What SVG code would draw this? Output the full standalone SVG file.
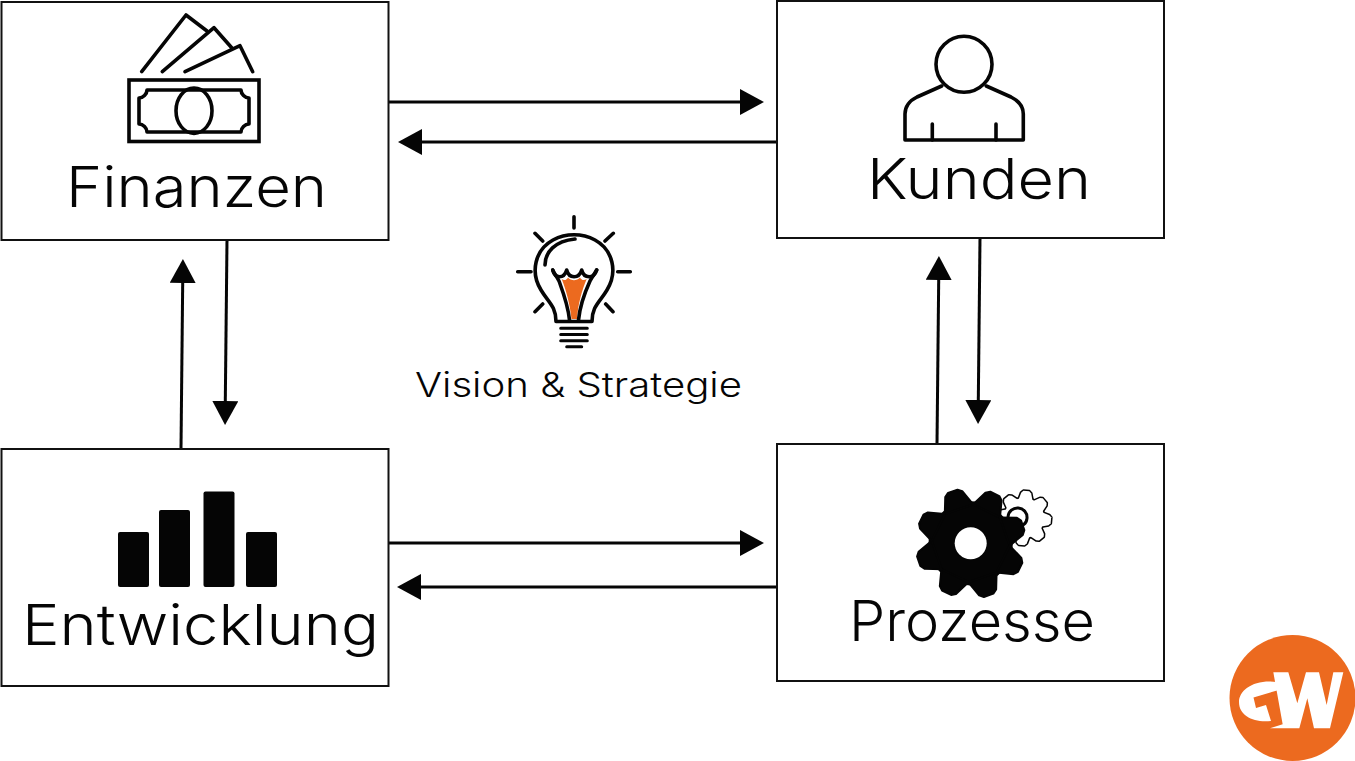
<svg xmlns="http://www.w3.org/2000/svg" xmlns:xlink="http://www.w3.org/1999/xlink" width="1355" height="761" viewBox="0 0 1355 761">
<style>
.box{fill:#fff;stroke:#111;stroke-width:2}
.lbl{font-family:"Inter","Liberation Sans",sans-serif;font-size:56px;font-weight:350;fill:#050505}
.ico{fill:none;stroke:#050505;stroke-width:3.600;stroke-linecap:round;stroke-linejoin:round}
.bar{fill:#050505}
.con{fill:none;stroke:#050505;stroke-width:3}
</style>
<defs>
<marker id="arr" markerUnits="userSpaceOnUse" markerWidth="28" markerHeight="28" refX="20" refY="13" orient="auto"><path d="M0 0L24 13L0 26Z" fill="#050505"/></marker>
<polygon id="bt" points="-15,-36 -9,-52 -5,-55 5,-55 9,-52 15,-36"/>
<polygon id="st" points="-7,-18 -5,-25 -3,-27 3,-27 5,-25 7,-18"/>
</defs>
<rect width="1355" height="761" fill="#fff"/>
<g id="connectors" class="con" marker-end="url(#arr)">
<path d="M389 102H760"/>
<path d="M777 142H402"/>
<path d="M227 240L225.100 421"/>
<path d="M181 448L182.900 263"/>
<path d="M980 238L978.100 420"/>
<path d="M937 444L938.900 260"/>
<path d="M389 543H760"/>
<path d="M777 587H401"/>
</g>
<g id="node-finanzen">
<rect class="box" x="1.500" y="2" width="387" height="238"/>
<g class="ico">
<path d="M141.700 71.700L186 15L207 31"/>
<path d="M162.300 71.700L214 27.700L231.700 47.700"/>
<path d="M185 71.700L240 45.700L252.700 71.700"/>
<rect x="129" y="80" width="130" height="61.500" stroke-linejoin="miter"/>
<path d="M147 90H241C241 94 245 98 249 98V124C245 124 241 128 241 132H147C147 128 143 124 139 124V98C143 98 147 94 147 90Z"/>
<ellipse cx="194" cy="110.700" rx="18" ry="22.700"/>
</g>
<text class="lbl" x="66" y="207" textLength="261" lengthAdjust="spacingAndGlyphs">Finanzen</text>
</g>
<g id="node-kunden">
<rect class="box" x="777" y="1" width="387" height="237"/>
<g class="ico">
<circle cx="964" cy="64.300" r="28"/>
<path d="M941.700 86L917 97C909 101 905 107 905 114V140H1023.300V114C1023.300 107 1019 101 1011 97L986.300 86"/>
<path d="M932.300 124V140M996 124V140"/>
</g>
<text class="lbl" x="867" y="199" textLength="224" lengthAdjust="spacingAndGlyphs">Kunden</text>
</g>
<g id="node-entwicklung">
<rect class="box" x="1.500" y="449" width="387" height="237"/>
<rect class="bar" x="118" y="532" width="31" height="55" rx="2"/>
<rect class="bar" x="159" y="510" width="31" height="77" rx="2"/>
<rect class="bar" x="203.500" y="491.500" width="31" height="95.500" rx="2"/>
<rect class="bar" x="246" y="532" width="31" height="55" rx="2"/>
<text class="lbl" x="22" y="645" textLength="357" lengthAdjust="spacingAndGlyphs">Entwicklung</text>
</g>
<g id="node-prozesse">
<rect class="box" x="777" y="444" width="387" height="237"/>
<g transform="translate(1024 518) rotate(5)">
<g stroke="#050505" stroke-width="3" fill="#050505" stroke-linejoin="round">
<circle r="20"/>
<use xlink:href="#st"/><use xlink:href="#st" transform="rotate(45)"/><use xlink:href="#st" transform="rotate(90)"/><use xlink:href="#st" transform="rotate(135)"/><use xlink:href="#st" transform="rotate(180)"/><use xlink:href="#st" transform="rotate(225)"/><use xlink:href="#st" transform="rotate(270)"/><use xlink:href="#st" transform="rotate(315)"/>
</g>
<g fill="#fff">
<circle r="20"/>
<use xlink:href="#st"/><use xlink:href="#st" transform="rotate(45)"/><use xlink:href="#st" transform="rotate(90)"/><use xlink:href="#st" transform="rotate(135)"/><use xlink:href="#st" transform="rotate(180)"/><use xlink:href="#st" transform="rotate(225)"/><use xlink:href="#st" transform="rotate(270)"/><use xlink:href="#st" transform="rotate(315)"/>
</g>
<circle cx="-6.500" cy="0" r="9.500" fill="#fff" stroke="#050505" stroke-width="3"/>
</g>
<g transform="translate(970.700 543.300) rotate(-19)" fill="#050505" stroke="#050505" stroke-width="2" stroke-linejoin="round">
<circle r="41"/>
<use xlink:href="#bt"/><use xlink:href="#bt" transform="rotate(45)"/><use xlink:href="#bt" transform="rotate(90)"/><use xlink:href="#bt" transform="rotate(135)"/><use xlink:href="#bt" transform="rotate(180)"/><use xlink:href="#bt" transform="rotate(225)"/><use xlink:href="#bt" transform="rotate(270)"/><use xlink:href="#bt" transform="rotate(315)"/>
</g>
<circle cx="970.700" cy="543.300" r="16" fill="#fff"/>
<text class="lbl" x="849" y="641" textLength="246" lengthAdjust="spacingAndGlyphs">Prozesse</text>
</g>
<g id="node-vision">
<path d="M561.700 279C564 281 567 280 568 277.500C571 281 577 281 580 277.500C581 280 584 281 586.700 279C582 290 578 304 577 319H571.500C570 304 566 290 561.700 279Z" fill="#ec6a1f"/>
<g class="ico">
<path d="M574 216.700V228M517.700 271.700H531M617.700 271.700H630.300M535 233.300L542.700 241M613.300 233.300L605 241M535 311.700L542.700 304M613 311.700L605.700 304"/>
<path d="M556 321.500C556 306 548 302 541 290C530 272 535 250 553 240C566 233 582 233 595 240C613 250 618 272 607 290C600 302 592 306 592 321.500Z"/>
<path d="M545 265C545 252 555 241 575 239"/>
<path d="M552.700 270C554 273 557 277 559 281C563 292 568 305 569.500 320M596.700 270C595 273 592 277 590 281C585 292 580 305 578.500 320"/>
<path d="M552.700 270C555 279 564 279 566.700 270C569 279 579 279 581.700 270C584 279 594 279 596.700 270"/>
<path d="M560.700 328.300H587.300M560.700 334.500H587.300M560.700 340.700H587.300M566.700 346.700H581.700" stroke-width="3"/>
</g>
<text x="415" y="397" textLength="327" lengthAdjust="spacingAndGlyphs" style="font-family:'Inter','Liberation Sans',sans-serif;font-size:34px;font-weight:350;fill:#050505">Vision &amp; Strategie</text>
</g>
<g id="logo">
<circle cx="1292.500" cy="698" r="63" fill="#ec6a1f"/>
<path d="M1277 682C1254 679 1239 690 1239 702C1239 716 1254 723 1271 721L1266 705L1256 708L1253.500 697.500L1277 690.500Z" fill="#fff"/>
<g transform="translate(1220 625) scale(0.3333)" fill="#fff">
<path d="M160 142H205L232 235L258 142H297L320 240L340 142H370L330 310H282L262 220L238 310H150L188 298Z"/>
</g>
</g>
</svg>
